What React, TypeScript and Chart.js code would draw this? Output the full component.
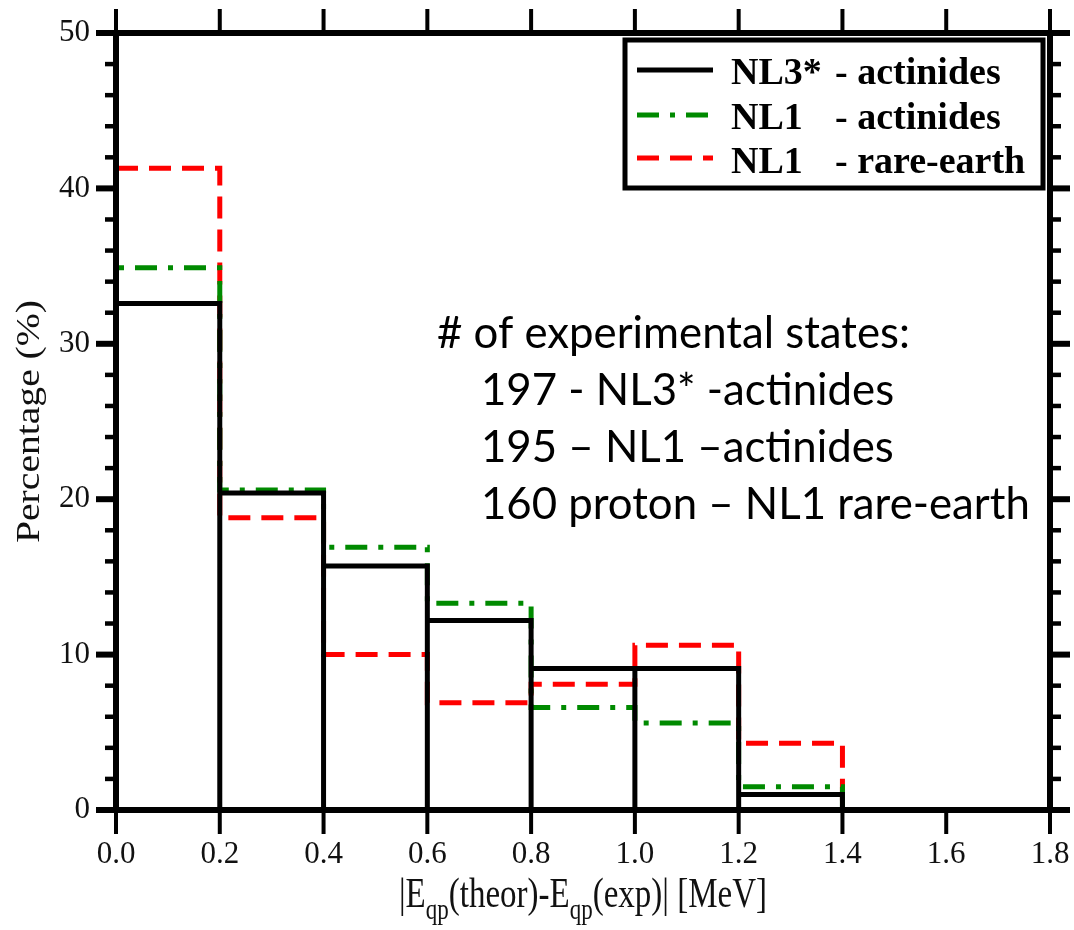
import React, { useEffect, useRef } from "react";
import { Chart, registerables } from "chart.js";

Chart.register(...registerables);

// ---- data ----
const binEdges = [0, 0.2, 0.4, 0.6, 0.8, 1.0, 1.2, 1.4];
const nl3Actinides = [32.6, 20.4, 15.7, 12.2, 9.1, 9.1, 1.0];
const nl1Actinides = [34.9, 20.6, 16.9, 13.3, 6.6, 5.6, 1.5];
const nl1RareEarth = [41.3, 18.8, 10.0, 6.9, 8.1, 10.6, 4.3];

const legendNames = ["NL3*", "NL1", "NL1"];
const legendSuffixes = ["- actinides", "- actinides", "- rare-earth"];

const noteLines = [
  "# of experimental states:",
  "197 - NL3* -actinides",
  "195 \u2013 NL1 \u2013actinides",
  "160 proton \u2013 NL1 rare-earth",
];

const xTitleParts = [
  { t: "|E", sub: false },
  { t: "qp", sub: true },
  { t: "(theor)-E", sub: false },
  { t: "qp", sub: true },
  { t: "(exp)| [MeV]", sub: false },
];
const yTitle = "Percentage (%)";

const X_MIN = 0;
const X_MAX = 1.8;
const X_STEP = 0.2;
const Y_MIN = 0;
const Y_MAX = 50;
const Y_STEP = 10;
const Y_MINOR = 2;

// ---- path builders (from the arrays) ----
function stepOutline(values: number[]) {
  const pts: { x: number; y: number }[] = [];
  values.forEach((v, i) => {
    pts.push({ x: binEdges[i], y: v });
    pts.push({ x: binEdges[i + 1], y: v });
  });
  pts.push({ x: binEdges[values.length], y: 0 });
  return pts;
}

function barOutline(values: number[]) {
  const pts: { x: number; y: number }[] = [{ x: binEdges[0], y: 0 }];
  values.forEach((v, i) => {
    pts.push({ x: binEdges[i], y: v });
    pts.push({ x: binEdges[i + 1], y: v });
    pts.push({ x: binEdges[i + 1], y: 0 });
  });
  return pts;
}

const SERIF = "'Liberation Serif', 'Times New Roman', serif";

function fixBox(size: number, horizontal: boolean) {
  return (s: any) => {
    if (horizontal) s.height = size;
    else s.width = size;
    s.paddingTop = 0;
    s.paddingBottom = 0;
    s.paddingLeft = 0;
    s.paddingRight = 0;
  };
}

const framePlugin = {
  id: "frame",
  afterDatasetsDraw(chart: any) {
    const { ctx, chartArea } = chart;
    const { left: L, right: R, top: T, bottom: B } = chartArea;
    const xs = chart.scales.x;
    const ys = chart.scales.y;
    const line = (x1: number, y1: number, x2: number, y2: number) => {
      ctx.beginPath();
      ctx.moveTo(x1, y1);
      ctx.lineTo(x2, y2);
      ctx.stroke();
    };
    ctx.save();
    ctx.strokeStyle = "#000";
    ctx.lineCap = "butt";
    // minor y ticks
    ctx.lineWidth = 4.5;
    for (let v = Y_MIN; v <= Y_MAX + 1e-9; v += Y_MINOR) {
      const r = Math.abs(v / Y_STEP - Math.round(v / Y_STEP));
      if (r < 1e-6) continue;
      const y = ys.getPixelForValue(v);
      line(L - 11, y, L, y);
      line(R, y, R + 11, y);
    }
    // major y ticks
    ctx.lineWidth = 6;
    ys.ticks.forEach((t: any) => {
      const y = ys.getPixelForValue(t.value);
      line(L - 20, y, L, y);
      line(R, y, R + 20, y);
    });
    // x ticks
    ctx.lineWidth = 4;
    xs.ticks.forEach((t: any) => {
      const x = xs.getPixelForValue(t.value);
      line(x, B, x, B + 24);
      line(x, T - 24, x, T);
    });
    // frame
    ctx.lineWidth = 6;
    ctx.lineJoin = "miter";
    ctx.strokeRect(L, T, R - L, B - T);
    ctx.restore();
  },
  afterDraw(chart: any) {
    const { ctx, chartArea } = chart;
    const { left: L, right: R, top: T, bottom: B } = chartArea;
    ctx.save();

    // ---- legend box ----
    ctx.strokeStyle = "#000";
    ctx.lineWidth = 5;
    ctx.strokeRect(625, 40, 418, 148);
    const rowsY = [70, 115, 158];
    const baseY = [84, 128.5, 173];
    chart.data.datasets.forEach((ds: any, i: number) => {
      ctx.save();
      ctx.strokeStyle = ds.borderColor;
      ctx.lineWidth = 5;
      ctx.setLineDash(ds.borderDash || []);
      ctx.beginPath();
      ctx.moveTo(637, rowsY[i]);
      ctx.lineTo(713, rowsY[i]);
      ctx.stroke();
      ctx.restore();
      ctx.fillStyle = "#000";
      ctx.font = `bold 38px ${SERIF}`;
      ctx.textAlign = "left";
      ctx.textBaseline = "alphabetic";
      ctx.fillText(legendNames[i], 731, baseY[i]);
      ctx.fillText(legendSuffixes[i], 835, baseY[i]);
    });

    // ---- annotation ----
    ctx.fillStyle = "#000";
    ctx.textAlign = "left";
    ctx.textBaseline = "alphabetic";
    ctx.font = `100px Lato, 'Open Sans', sans-serif`;
    const w100 = ctx.measureText(noteLines[0]).width;
    const fs = (473 / w100) * 100;
    ctx.font = `${fs}px Lato, 'Open Sans', sans-serif`;
    const noteX = [437, 481, 481, 481];
    const noteY = [348, 405, 462, 519];
    noteLines.forEach((s, i) => ctx.fillText(s, noteX[i], noteY[i]));

    // ---- x title ----
    const mainFont = `33px ${SERIF}`;
    const subFont = `23px ${SERIF}`;
    let total = 0;
    xTitleParts.forEach((p) => {
      ctx.font = p.sub ? subFont : mainFont;
      total += ctx.measureText(p.t).width;
    });
    let x = (L + R) / 2 - total / 2;
    ctx.fillStyle = "#111";
    xTitleParts.forEach((p) => {
      ctx.font = p.sub ? subFont : mainFont;
      ctx.save();
      ctx.translate(x, p.sub ? 919 : 907);
      ctx.scale(1, 1.25);
      ctx.fillText(p.t, 0, 0);
      ctx.restore();
      x += ctx.measureText(p.t).width;
    });

    // ---- y title ----
    ctx.save();
    ctx.font = `33px ${SERIF}`;
    ctx.translate(39, (T + B) / 2);
    ctx.rotate(-Math.PI / 2);
    ctx.scale(1.2, 1);
    ctx.textAlign = "center";
    ctx.textBaseline = "alphabetic";
    ctx.fillText(yTitle, 0, 0);
    ctx.restore();

    ctx.restore();
  },
};

export default function App() {
  const ref = useRef<HTMLCanvasElement | null>(null);
  useEffect(() => {
    if (!ref.current) return;
    const common = {
      showLine: true,
      pointRadius: 0,
      pointHoverRadius: 0,
      tension: 0,
      fill: false,
      borderCapStyle: "butt",
      borderJoinStyle: "miter",
    };
    const chart = new Chart(ref.current, {
      type: "scatter",
      data: {
        datasets: [
          {
            ...common,
            label: "NL3* - actinides",
            data: barOutline(nl3Actinides),
            borderColor: "#000000",
            backgroundColor: "#000000",
            borderWidth: 5,
          },
          {
            ...common,
            label: "NL1 - actinides",
            data: stepOutline(nl1Actinides),
            borderColor: "#008a00",
            backgroundColor: "#008a00",
            borderWidth: 5,
            borderDash: [22, 11, 5, 11],
            borderDashOffset: 30,
          },
          {
            ...common,
            label: "NL1 - rare-earth",
            data: stepOutline(nl1RareEarth),
            borderColor: "#ff0000",
            backgroundColor: "#ff0000",
            borderWidth: 5,
            borderDash: [22, 11],
          },
        ],
      } as any,
      options: {
        animation: false,
        responsive: false,
        maintainAspectRatio: false,
        layout: { padding: 0, autoPadding: false },
        plugins: {
          legend: { display: false },
          tooltip: { enabled: false },
        },
        events: [],
        scales: {
          x: {
            type: "linear",
            position: "bottom",
            min: X_MIN,
            max: X_MAX,
            grid: { display: false, drawTicks: false },
            border: { display: false },
            ticks: {
              stepSize: X_STEP,
              padding: 26,
              color: "#111",
              font: { family: SERIF, size: 31 },
              maxRotation: 0,
              autoSkip: false,
              callback: (v: any) => Number(v).toFixed(1),
            },
            afterFit: fixBox(120, true),
          },
          x2: {
            type: "linear",
            position: "top",
            min: X_MIN,
            max: X_MAX,
            grid: { display: false, drawTicks: false },
            border: { display: false },
            ticks: { display: false },
            afterFit: fixBox(33, true),
          },
          y: {
            type: "linear",
            position: "left",
            min: Y_MIN,
            max: Y_MAX,
            grid: { display: false, drawTicks: false },
            border: { display: false },
            ticks: {
              stepSize: Y_STEP,
              padding: 26,
              color: "#111",
              font: { family: SERIF, size: 31 },
            },
            afterFit: fixBox(116, false),
          },
          y2: {
            type: "linear",
            position: "right",
            min: Y_MIN,
            max: Y_MAX,
            grid: { display: false, drawTicks: false },
            border: { display: false },
            ticks: { display: false },
            afterFit: fixBox(24, false),
          },
        },
      } as any,
      plugins: [framePlugin],
    });
    return () => chart.destroy();
  }, []);

  return (
    <div style={{ position: "absolute", left: 0, top: 0, width: 1074, height: 930, background: "#fff" }}>
      <canvas ref={ref} width={1074} height={930} style={{ display: "block" }} />
    </div>
  );
}
